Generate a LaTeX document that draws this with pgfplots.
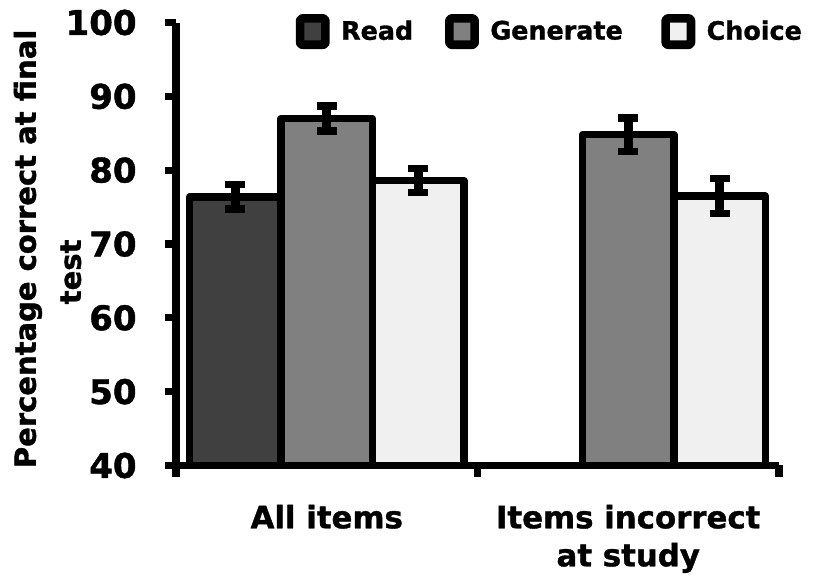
\documentclass[border=0pt]{standalone}
\usepackage{pgfplots}
\pgfplotsset{compat=1.18}
\usepackage{fontspec}
\setmainfont{DejaVu Sans}[BoldFeatures={FakeBold=1.2}]

\definecolor{readc}{RGB}{64,64,64}
\definecolor{genc}{RGB}{128,128,128}
\definecolor{choicec}{RGB}{240,240,240}

\pgfplotsset{
  barstyle/.style={ybar, bar width=0.303, bar shift=0pt, draw=black,
    line width=3.75pt, line join=round,
    error bars/y dir=both, error bars/y explicit,
    error bars/error mark=|,
    error bars/error bar style={line width=4.5pt, black},
    error bars/error mark options={line width=3.6pt, mark size=5pt, black}},
  legbox/.style={legend image code/.code={%
    \draw[fill=#1, draw=black, line width=4.3pt, rounded corners=1.2pt]
      (0pt,-6.6pt) rectangle (12.65pt,6.6pt);}},
}

\begin{document}
\begin{tikzpicture}[x=1pt,y=1pt]
\useasboundingbox (-88,-56.25) rectangle (320,232.75);
\begin{axis}[
  at={(0,0)}, anchor=south west,
  scale only axis, width=301.5pt, height=221.5pt,
  xmin=-0.5, xmax=1.5, ymin=40, ymax=100,
  axis lines*=left,
  axis line style={line width=3.75pt, -},
  clip=false,
  ytick={40,50,...,100},
  tick align=outside,
  y tick style={line width=3.6pt, black},
  major tick length=5.5pt,
  /pgf/number format/assume math mode=true,
  yticklabel style={font=\fontsize{17}{18}\selectfont\bfseries, anchor=east, inner sep=0pt, xshift=-14pt},
  xtick={0,1},
  xticklabels={All items, {Items incorrect\\at study}},
  x tick style={draw=none},
  xticklabel style={font=\fontsize{15.4}{19}\selectfont\bfseries, align=center, anchor=north, inner sep=0pt, yshift=-14pt},
  extra x ticks={-0.5,0.5,1.5},
  extra x tick labels={},
  extra x tick style={x tick style={draw=black, line width=3.6pt}, major tick length=6pt},
  ylabel={Percentage correct at final\\test\hspace*{23pt}},
  ylabel style={font=\fontsize{14.5}{22.5}\selectfont\bfseries, align=center,
    at={(axis description cs:-0.2131,0.489)}, anchor=center},
  legend columns=3,
  legend cell align=left,
  legend style={draw=none, fill=none, inner sep=0pt,
    nodes={inner sep=0pt, font=\fontsize{12.7}{14}\selectfont\bfseries},
    at={(rel axis cs:0.198,1.0199)}, anchor=north west,
    /tikz/every odd column/.append style={column sep=5.7pt}},
]
% Read (only shown for all items)
\addplot[barstyle, fill=readc, legbox=readc] coordinates {
  (-0.303,76.4) +- (0,1.65)
};
\addlegendentry{\makebox[52pt][l]{Read}}
% Generate
\addplot[barstyle, fill=genc, legbox=genc] coordinates {
  (0,87.0) +- (0,1.7)
  (1,84.8) +- (0,2.26)
};
\addlegendentry{\makebox[85.5pt][l]{Generate}}
% Choice
\addplot[barstyle, fill=choicec, legbox=choicec] coordinates {
  (0.303,78.6) +- (0,1.6)
  (1.303,76.5) +- (0,2.33)
};
\addlegendentry{Choice}
\end{axis}
\end{tikzpicture}
\end{document}
